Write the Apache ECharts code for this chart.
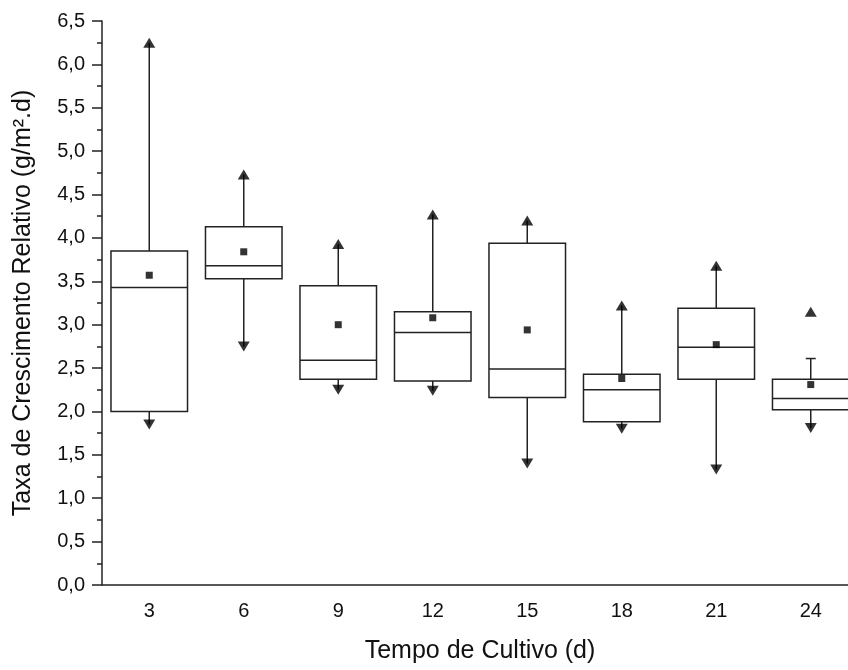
<!DOCTYPE html>
<html>
<head>
<meta charset="utf-8">
<script src="https://cdn.jsdelivr.net/npm/echarts@6/dist/echarts.min.js"></script>
<style>
  html, body { margin: 0; padding: 0; background: #fff; }
  #chart { width: 848px; height: 670px; }
</style>
</head>
<body>
<div id="chart"></div>
<script>
// tempo de cultivo (d)
const categories = ['3', '6', '9', '12', '15', '18', '21', '24']

// box statistics
const q1 = [2.00, 3.53, 2.37, 2.35, 2.16, 1.88, 2.37, 2.02]
const medians = [3.43, 3.68, 2.59, 2.91, 2.49, 2.25, 2.74, 2.15]
const q3 = [3.85, 4.13, 3.45, 3.15, 3.94, 2.43, 3.19, 2.37]
const whiskerLow = [1.85, 2.75, 2.25, 2.24, 1.40, 1.80, 1.33, 1.81]
const whiskerHigh = [6.25, 4.73, 3.93, 4.27, 4.20, 3.22, 3.68, 2.61]
const means = [3.57, 3.84, 3.00, 3.08, 2.94, 2.38, 2.77, 2.31]
const maxima = [6.25, 4.73, 3.93, 4.27, 4.20, 3.22, 3.68, 3.15]
const minima = [1.85, 2.75, 2.25, 2.24, 1.40, 1.80, 1.33, 1.81]

const yTicks = { min: 0, max: 6.5, step: 0.5 }

const lineColor = '#222'
const fontFamily = 'Liberation Sans, Arial, sans-serif'

const boxData = categories.map((c, i) => [i, q1[i], medians[i], q3[i], whiskerLow[i], whiskerHigh[i], maxima[i]])

function renderBox(params, api) {
  const idx = api.value(0)
  const bandW = api.size([1, 0])[0]
  const half = bandW * 0.405
  const pLow = api.coord([idx, api.value(1)])
  const pMed = api.coord([idx, api.value(2)])
  const pHigh = api.coord([idx, api.value(3)])
  const pWl = api.coord([idx, api.value(4)])
  const pWh = api.coord([idx, api.value(5)])
  const x = pMed[0]
  const style = { stroke: lineColor, lineWidth: 1.5, fill: null }
  const children = [
    { type: 'rect', shape: { x: x - half, y: pHigh[1], width: half * 2, height: pLow[1] - pHigh[1] }, style: { stroke: lineColor, lineWidth: 1.5, fill: '#fff' } },
    { type: 'line', shape: { x1: x - half, y1: pMed[1], x2: x + half, y2: pMed[1] }, style },
    { type: 'line', shape: { x1: x, y1: pHigh[1], x2: x, y2: pWh[1] }, style },
    { type: 'line', shape: { x1: x, y1: pLow[1], x2: x, y2: pWl[1] }, style }
  ]
  // whisker ending without a max marker gets a small cap
  if (api.value(6) !== api.value(5)) {
    children.push({ type: 'line', shape: { x1: x - 5, y1: pWh[1], x2: x + 5, y2: pWh[1] }, style })
  }
  return { type: 'group', children }
}

const chart = echarts.init(document.getElementById('chart'))

chart.setOption({
  backgroundColor: '#fff',
  animation: false,
  textStyle: { fontFamily },
  grid: { left: 102, top: 21, width: 756, height: 564, outerBoundsMode: 'none', containLabel: false },
  xAxis: {
    type: 'category',
    data: categories,
    boundaryGap: true,
    name: 'Tempo de Cultivo (d)',
    nameLocation: 'middle',
    nameGap: 54,
    nameTextStyle: { fontSize: 25, color: '#111', fontFamily },
    axisLine: { lineStyle: { color: lineColor, width: 1.5 } },
    axisTick: { alignWithLabel: true, length: 10, lineStyle: { color: lineColor, width: 1.5 } },
    axisLabel: { fontSize: 20, color: '#111', margin: 16, fontFamily },
    splitLine: { show: false }
  },
  yAxis: {
    type: 'value',
    min: yTicks.min,
    max: yTicks.max,
    interval: yTicks.step,
    name: 'Taxa de Crescimento Relativo (g/m².d)',
    nameLocation: 'middle',
    nameGap: 66,
    nameTextStyle: { fontSize: 25, color: '#111', fontFamily },
    axisLine: { show: true, lineStyle: { color: lineColor, width: 1.5 } },
    axisTick: { show: true, length: 10, lineStyle: { color: lineColor, width: 1.5 } },
    minorTick: { show: true, splitNumber: 2, length: 5, lineStyle: { color: lineColor, width: 1.5 } },
    axisLabel: {
      fontSize: 20,
      color: '#111',
      margin: 17,
      fontFamily,
      formatter: v => v.toFixed(1).replace('.', ',')
    },
    splitLine: { show: false }
  },
  series: [
    {
      type: 'custom',
      renderItem: renderBox,
      data: boxData,
      encode: { x: 0, y: [1, 2, 3, 4, 5] },
      z: 2
    },
    {
      type: 'scatter',
      name: 'Média',
      data: categories.map((c, i) => [i, means[i]]),
      symbol: 'rect',
      symbolSize: 7,
      itemStyle: { color: '#000' },
      z: 5
    },
    {
      type: 'scatter',
      name: 'Máximo',
      data: categories.map((c, i) => [i, maxima[i]]),
      symbol: 'triangle',
      symbolSize: [12, 10],
      itemStyle: { color: '#000' },
      z: 5
    },
    {
      type: 'scatter',
      name: 'Mínimo',
      data: categories.map((c, i) => [i, minima[i]]),
      symbol: 'triangle',
      symbolRotate: 180,
      symbolSize: [12, 10],
      itemStyle: { color: '#000' },
      z: 5
    }
  ]
})
</script>
</body>
</html>
